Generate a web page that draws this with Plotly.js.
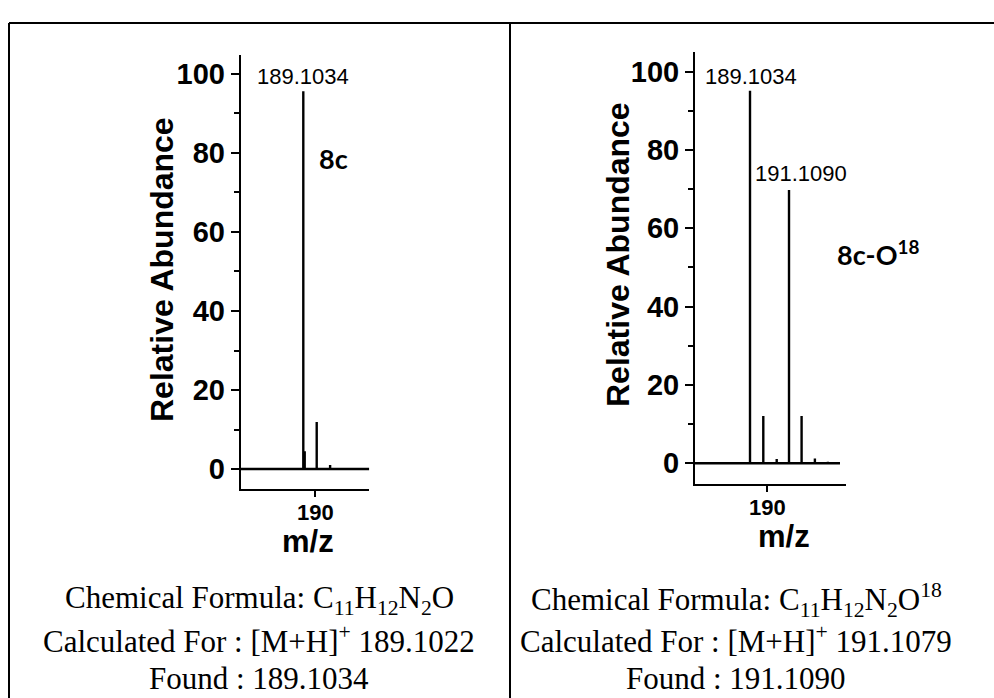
<!DOCTYPE html>
<html>
<head>
<meta charset="utf-8">
<script src="https://cdn.plot.ly/plotly-3.0.1.min.js"></script>
<style>html,body{margin:0;padding:0;background:#fff;}#chart{width:994px;height:698px;}</style>
</head>
<body>
<div id="chart"></div>
<script>
// ---- data ----
const leftMz = [189.1034, 189.208, 190.107, 191.11];
const leftInt = [95.6, 4.5, 11.9, 1.0];
const rightMz = [189.1034, 189.787, 190.476, 191.109, 191.756, 192.44, 193.11];
const rightInt = [95.1, 12.1, 1.1, 69.8, 12.1, 1.2, 0.4];
const leftBase = [184.418, 194.043];
const rightBase = [186.275, 193.73];
const xTickVals = [190];
const xTickText = ['190'];
const yTickVals = [0, 20, 40, 60, 80, 100];
const peakLabelsLeft = ['189.1034'];
const peakLabelsRight = ['189.1034', '191.1090'];
const compoundLeft = '8c';
const compoundRight = '8c-O<sup>18</sup>';
const captionLeft = [
  'Chemical Formula: C<sub>11</sub>H<sub>12</sub>N<sub>2</sub>O',
  'Calculated For : [M+H]<sup>+</sup> 189.1022',
  'Found : 189.1034'
];
const captionRight = [
  'Chemical Formula: C<sub>11</sub>H<sub>12</sub>N<sub>2</sub>O<sup>18</sup>',
  'Calculated For : [M+H]<sup>+</sup> 191.1079',
  'Found : 191.1090'
];

const W = 994, H = 698;
const fx = p => p / W;
const fy = p => 1 - p / H;

function stick(mz, inten, base) {
  const x = [base[0]], y = [0];
  mz.forEach((m, i) => { x.push(m, m, m); y.push(0, inten[i], 0); });
  x.push(base[1]); y.push(0);
  return {x, y};
}
const sL = stick(leftMz, leftInt, leftBase);
const sR = stick(rightMz, rightInt, rightBase);

const traces = [
  {x: sL.x, y: sL.y, xaxis: 'x', yaxis: 'y', mode: 'lines', line: {color: '#000', width: 2.4}, hoverinfo: 'skip'},
  {x: sR.x, y: sR.y, xaxis: 'x2', yaxis: 'y2', mode: 'lines', line: {color: '#000', width: 2.4}, hoverinfo: 'skip'}
];

const sans = 'Liberation Sans, Arial, sans-serif';
const serif = 'Liberation Serif, Times New Roman, serif';

function xax(range, domain, anchor) {
  return {
    range, domain, anchor, showgrid: false, zeroline: false,
    showline: true, linewidth: 2, linecolor: '#000',
    ticks: 'outside', ticklen: 6, tickwidth: 2, tickcolor: '#000',
    tickvals: xTickVals, ticktext: xTickText, ticklabelstandoff: -3,
    tickfont: {family: sans, size: 22, color: '#000', weight: 'bold'}
  };
}
function yax(range, domain, anchor) {
  return {
    range, domain, anchor, showgrid: false, zeroline: false,
    showline: true, linewidth: 2, linecolor: '#000',
    ticks: 'outside', ticklen: 8, tickwidth: 2, tickcolor: '#000',
    tickvals: yTickVals,
    minor: {tickvals: [10, 30, 50, 70, 90], ticks: 'outside', ticklen: 5, tickwidth: 2, tickcolor: '#000'},
    tickfont: {family: sans, size: 29, color: '#000', weight: 'bold'}
  };
}

const ann = [];
function txt(text, px, py, font, extra) {
  ann.push(Object.assign({text, x: fx(px), y: fy(py), xref: 'paper', yref: 'paper',
    showarrow: false, xanchor: 'center', yanchor: 'middle', font}, extra || {}));
}
const titleFont = {family: sans, size: 32, color: '#000', weight: 'bold'};
const mzFont = {family: sans, size: 31, color: '#000', weight: 'bold'};
const peakFont = {family: sans, size: 22, color: '#000'};
const cmpFont = {family: 'Lato, sans-serif', size: 27, color: '#000', weight: 'bold'};
const capFont = {family: serif, size: 31, color: '#000'};

txt('Relative Abundance', 162, 270, titleFont, {textangle: -90});
txt('Relative Abundance', 618, 255, titleFont, {textangle: -90});
txt('m/z', 307.5, 541, mzFont);
txt('m/z', 784, 536, mzFont);
txt(peakLabelsLeft[0], 303, 76, peakFont);
txt(peakLabelsRight[0], 751, 76, peakFont);
txt(peakLabelsRight[1], 801, 174, peakFont);
txt(compoundLeft, 333, 158, cmpFont);
txt(compoundRight, 878, 253, cmpFont);
const capY = [600, 639, 678];
captionLeft.forEach((t, i) => txt(t, 259, capY[i], capFont));
captionRight.forEach((t, i) => txt(t, 736, capY[i], capFont));

const border = {color: '#000', width: 2};
const shapes = [
  {type: 'line', xref: 'paper', yref: 'paper', x0: fx(9), x1: 1, y0: fy(23), y1: fy(23), line: border},
  {type: 'line', xref: 'paper', yref: 'paper', x0: fx(9), x1: fx(9), y0: fy(23), y1: 0, line: border},
  {type: 'line', xref: 'paper', yref: 'paper', x0: fx(510), x1: fx(510), y0: fy(23), y1: 0, line: border}
];

const layout = {
  width: W, height: H, margin: {l: 0, r: 0, t: 0, b: 0},
  paper_bgcolor: '#fff', plot_bgcolor: 'rgba(0,0,0,0)', showlegend: false,
  xaxis: xax([184.418, 194.043], [fx(240.7), fx(369.3)], 'y'),
  yaxis: yax([-5.06, 104.8], [fy(489), fy(55)], 'x'),
  xaxis2: xax([186.275, 194.024], [fx(695), fx(845.7)], 'y2'),
  yaxis2: yax([-5.29, 105.1], [fy(484), fy(51.7)], 'x2'),
  annotations: ann, shapes
};
Plotly.newPlot('chart', traces, layout, {staticPlot: true, displayModeBar: false});
</script>
</body>
</html>
